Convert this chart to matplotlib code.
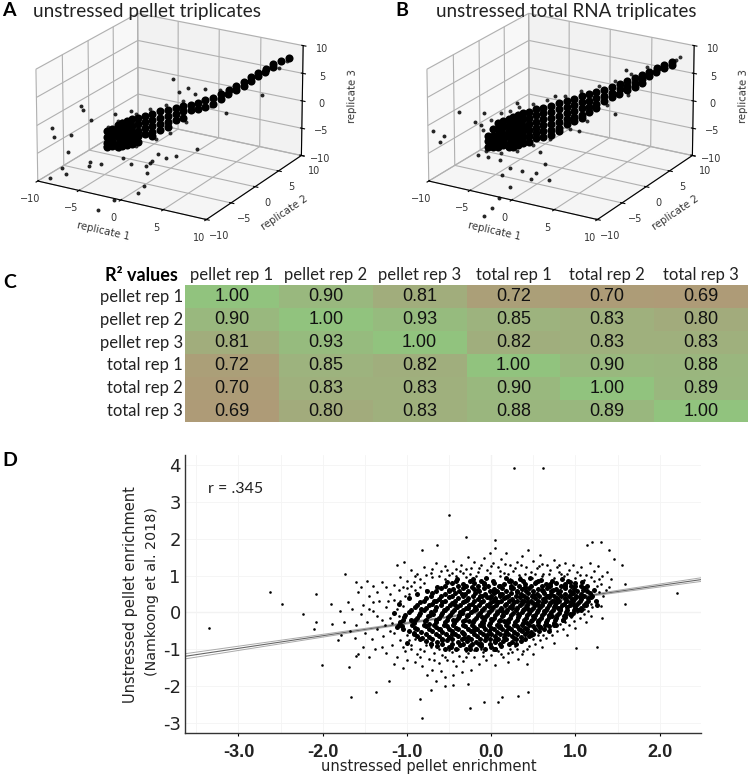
import matplotlib
matplotlib.use('Agg')
import matplotlib.pyplot as plt
from matplotlib.colors import LinearSegmentedColormap
import numpy as np

W, H = 750, 776

# Panel A: replicate 1/2 share a position value, replicate 3
a_out_t = [-8.9, -8.75, -6.7, -6.6, -6.0, -7.45, -7.75, -9.1, -7.9, -8.15, -6.1, -6.15, -5.25, -4.2, -3.0,
           .15, .6, 1.3, 1.8, 2.6, 6.9, 4.2, 2.0, .4, -.4, -1.0, -1.4, -1.6, -1.9, -1.8, -2.05, -2.5, -3.0, -3.65, -4.35, -5.55]
a_out_z = [-.7, -2.4, 2.8, 2.05, .1, -2.3, -5.3, -9.6, -9.3, -8.1, -7.5, -8.2, -8.1, .8, 1.0,
           6.1, 3.7, 4.25, 3.0, 3.8, 1.7, -1.0, -7.0, -7.9, -8.1, -7.2, -8.4, -8.7, -9.2, -10.5, -12.8, -14.0, -8.6, -7.3, -14.8, -16.4]
a_core_t = [-4.8, -4.8, -4.8, -4.8, -4.4, -4.4, -4.4, -4.4, -4, -4, -4, -4, -4, -3.65, -3.65, -3.65, -3.65, -3.65,
            -3.3, -3.3, -3.3, -3.3, -3.3, -2.9, -2.9, -2.9, -2.9, -2.9, -2.5, -2.5, -2.5, -2.5, -2.5, -1.95, -1.95, -1.95, -1.95,
            -1.4, -1.4, -1.4, -1.4, -1.4, -.8, -.8, -.8, -.8, -.2, -.2, -.2, -.2, .35, .35, .35, .9, .9, .9, 1.5, 1.5,
            2.05, 2.05, 2.6, 2.6, 3.2, 3.2, 3.8, 3.8, 4.35, 4.35, 4.9, 4.9, 5.5, 5.5, 6.05, 6.05, 6.6, 6.6, 7.15, 7.15, 7.75, 7.75, 8.3, 8.9]
a_core_z = [-2.2, -3.3, -4.3, -5, -1.8, -2.9, -4, -4.9, -1.3, -2.4, -3.5, -4.6, -5.3, -1, -2.1, -3.2, -4.3, -5.2,
            -.7, -1.8, -2.9, -4, -5, -.5, -1.7, -2.8, -3.8, -4.9, -.4, -1.5, -2.6, -3.6, -4.7, -.1, -1.2, -2.3, -3.3,
            .2, -.9, -2, -3.1, -3.8, .5, -.7, -1.8, -2.9, .6, -.5, -1.6, -2.5, .8, -.3, -1.4, 1, .1, -1, 1.2, .2,
            1.4, .3, 1.7, .6, 2, 1, 2.6, 1.7, 3.2, 2.4, 3.8, 3, 4.4, 3.7, 5.1, 4.5, 5.8, 5.2, 6.4, 5.9, 7.1, 6.6, 7.5, 8]
a_edge_t = [-4.7, -4, -3.65, -2.65, -1.6, -.4, .9, 2.4, 3.7, 4.9, 6.1, -4.95, -3.9, -2.65, -1.15, -.1, 1.15, 3, 5.85, 8.15, 8.75]
a_edge_z = [-1.5, -.6, -.65, .4, 1, 1.5, 1.9, 1.8, 3.4, 2.9, 5.3, -4.9, -5.7, -5.4, -4.5, -3.5, -1.8, .7, 4.5, 6.3, 7.45]

# Panel B
b_out_t = [-9.65, -8.8, -9.1, -7.7, -5.85, -6.5, -6.1, -3.35, -5.25, -.5, 4.85, 4, 1.3, -6.3, -5.55, -4.7,
           -3.9, -3, -4.55, -2.35, -2, -1.3, -1, -3.9, -4.8, -5.3, -5.9, -1.65]
b_out_z = [-1.1, -2.2, -3.2, 1.9, 1.3, -.2, -.8, 2.6, -1.9, 3.2, 6.7, -1.1, -3.6, -6.2, -6.6, -7.5,
           -9.1, -9.9, -10.2, -11.5, -10.5, -9, -11.9, -12.6, -14.4, -16, -17.4, -6.7]
b_core_t = [-5.55, -5.55, -5.55, -5.15, -5.15, -5.15, -5.15, -4.8, -4.8, -4.8, -4.8, -4.8, -4.4, -4.4, -4.4, -4.4, -4.4,
            -4, -4, -4, -4, -4, -4, -3.65, -3.65, -3.65, -3.65, -3.65, -3.65, -3.3, -3.3, -3.3, -3.3, -3.3, -3.3,
            -2.9, -2.9, -2.9, -2.9, -2.9, -2.9, -2.5, -2.5, -2.5, -2.5, -2.5, -2.5, -1.95, -1.95, -1.95, -1.95, -1.95, -1.95,
            -1.4, -1.4, -1.4, -1.4, -1.4, -1.4, -.8, -.8, -.8, -.8, -.8, -.8, -.2, -.2, -.2, -.2, -.2, -.2,
            .35, .35, .35, .35, .35, .9, .9, .9, .9, .9, 1.5, 1.5, 1.5, 1.5, 1.5, 2.05, 2.05, 2.05, 2.05, 2.6, 2.6, 2.6, 2.6,
            3.2, 3.2, 3.2, 3.8, 3.8, 3.8, 4.35, 4.35, 4.35, 4.9, 4.9, 4.9, 5.5, 5.5, 5.5, 6.05, 6.05, 6.05, 6.6, 6.6, 7.15, 7.15, 7.75, 7.75, 8.3, 8.3]
b_core_z = [-2.8, -3.8, -4.9, -1.8, -2.9, -3.9, -5, -.8, -1.8, -2.9, -4, -5, -.5, -1.6, -2.7, -3.8, -4.8,
            -.2, -1.3, -2.4, -3.5, -4.6, -5.3, .1, -1, -2.1, -3.2, -4.3, -5.3, .3, -.7, -1.8, -2.9, -4, -5,
            .6, -.5, -1.6, -2.6, -3.7, -4.8, .8, -.3, -1.4, -2.5, -3.6, -4.7, 1.1, 0, -1.1, -2.2, -3.2, -4.1,
            1.3, .3, -.8, -1.9, -3, -4, 1.5, .4, -.7, -1.8, -2.9, -3.7, 1.8, .7, -.4, -1.5, -2.6, -3.2,
            2.1, 1, 0, -1.1, -2.1, 2.4, 1.3, .2, -.9, -1.7, 2.7, 1.6, .5, -.6, -1.2, 2.9, 1.8, .7, -.3, 3.2, 2.2, 1.1, .3,
            3.5, 2.4, 1.4, 3.9, 2.8, 2, 4.3, 3.4, 2.5, 4.7, 3.8, 3.1, 5.1, 4.2, 3.5, 5.5, 4.8, 4.1, 6, 5.2, 6.5, 5.8, 7, 6.4, 7.4, 6.8]
b_edge_t = [-5.9, -5.3, -4.6, -3.9, -3.2, -2.2, -1.1, .2, 1.4, 2.8, 4, 5.2, 6.4, -5.7, -4.6, -3.4, -2.2, -.9, .6, 1.9, 3.4, 5, 8.6, 8.9]
b_edge_z = [-1.7, -.1, 1, 1.3, 1.8, 2.1, 2.6, 3.1, 3.6, 4.3, 4.9, 5.9, 6.9, -5.5, -6.2, -6.1, -5.3, -4.4, -3, -1.8, .7, 2.2, 7.7, 8.2]

tick_vals = [-10, -5, 0, 5, 10]

# Panel C
row_names = ['pellet rep 1', 'pellet rep 2', 'pellet rep 3', 'total rep 1', 'total rep 2', 'total rep 3']
r2_values = [[1.00, 0.90, 0.81, 0.72, 0.70, 0.69],
             [0.90, 1.00, 0.93, 0.85, 0.83, 0.80],
             [0.81, 0.93, 1.00, 0.82, 0.83, 0.83],
             [0.72, 0.85, 0.82, 1.00, 0.90, 0.88],
             [0.70, 0.83, 0.83, 0.90, 1.00, 0.89],
             [0.69, 0.80, 0.83, 0.88, 0.89, 1.00]]

# Panel D: dense rows of the cloud (y value, x values along the row)
d_row_y = [.85, .72, .58, .45, .32, .19, .06, -.07, -.2, -.33, -.46, -.59, -.72, -.85, -.98]
d_row_x = [[-.42, -.25, -.12, .02, .21, .38, .55, .72, .91],
           [-.55, -.4, -.3, -.16, -.04, .09, .24, .33, .47, .6, .7, .83, .95, 1.06],
           [-.66, -.5, -.38, -.27, -.14, -.02, .07, .18, .3, .41, .5, .62, .71, .82, .93, 1.02, 1.14],
           [-.72, -.6, -.46, -.34, -.22, -.11, 0, .1, .2, .29, .39, .48, .57, .66, .74, .83, .92, 1.01, 1.1, 1.2],
           [-.8, -.66, -.55, -.43, -.31, -.2, -.1, .02, .12, .21, .3, .39, .47, .56, .64, .72, .8, .89, .97, 1.05, 1.15, 1.24],
           [-.88, -.74, -.6, -.49, -.37, -.26, -.15, -.05, .06, .16, .25, .34, .43, .52, .6, .68, .76, .84, .93, 1.01, 1.1],
           [-.95, -.8, -.67, -.55, -.44, -.33, -.21, -.11, 0, .1, .19, .29, .38, .47, .56, .65, .73, .82, .9, .98, 1.06],
           [-1.02, -.86, -.73, -.6, -.49, -.38, -.27, -.16, -.05, .05, .14, .24, .33, .42, .52, .6, .69, .78, .87, .95],
           [-1.05, -.9, -.77, -.65, -.53, -.42, -.31, -.2, -.09, .01, .11, .2, .3, .39, .48, .57, .66, .76, .85],
           [-1.1, -.94, -.8, -.68, -.56, -.45, -.34, -.23, -.13, -.03, .07, .17, .27, .36, .45, .55, .64, .74],
           [-1.05, -.88, -.74, -.62, -.5, -.39, -.28, -.17, -.07, .03, .13, .23, .33, .43, .52, .63],
           [-.92, -.78, -.66, -.54, -.43, -.32, -.21, -.1, 0, .1, .2, .3, .4, .5],
           [-.84, -.7, -.58, -.46, -.35, -.24, -.13, -.02, .08, .18, .29, .4],
           [-.72, -.58, -.46, -.34, -.23, -.12, -.01, .1, .21],
           [-.55, -.42, -.3, -.18, -.07, .05]]
# more of the dense cloud, between those rows
d_mid = [(-.47, .79), (-.33, .77), (-.2, .8), (-.09, .76), (.03, .81), (.15, .77), (.28, .8), (.4, .76), (.52, .81), (.65, .78), (.77, .8), (.88, .76), (1.0, .8),
         (-.6, .66), (-.45, .63), (-.33, .67), (-.21, .64), (-.09, .66), (.03, .63), (.13, .67), (.24, .65), (.36, .63), (.45, .66), (.56, .64), (.66, .67), (.77, .63), (.88, .66), (.98, .64), (1.1, .66),
         (-.7, .53), (-.55, .5), (-.43, .54), (-.31, .51), (-.19, .53), (-.07, .5), (.03, .54), (.13, .51), (.24, .53), (.35, .5), (.44, .54), (.54, .51), (.63, .53), (.71, .5), (.79, .54), (.88, .51), (.97, .53), (1.06, .5), (1.17, .53),
         (-.77, .4), (-.62, .37), (-.5, .41), (-.39, .38), (-.27, .4), (-.16, .37), (-.05, .41), (.05, .38), (.15, .4), (.25, .37), (.34, .41), (.43, .38), (.52, .4), (.61, .37), (.69, .41), (.78, .38), (.87, .4), (.96, .37), (1.05, .41), (1.15, .38),
         (-.84, .27), (-.7, .24), (-.58, .28), (-.46, .25), (-.34, .27), (-.23, .24), (-.12, .28), (-.01, .25), (.08, .27), (.18, .24), (.27, .28), (.36, .25), (.44, .27), (.53, .24), (.62, .28), (.7, .25), (.78, .27), (.86, .24), (.95, .28), (1.03, .25), (1.13, .26),
         (-.9, .14), (-.77, .11), (-.65, .15), (-.53, .12), (-.41, .14), (-.3, .11), (-.19, .15), (-.08, .12), (.02, .14), (.12, .11), (.22, .15), (.31, .12), (.41, .14), (.49, .11), (.58, .15), (.66, .12), (.74, .14), (.82, .11), (.9, .15), (.99, .12), (1.07, .13),
         (-.98, .01), (-.84, -.02), (-.71, .02), (-.58, -.01), (-.47, .01), (-.35, -.02), (-.24, .02), (-.13, -.01), (-.03, .01), (.07, -.02), (.17, .02), (.26, -.01), (.36, .01), (.45, -.02), (.54, .02), (.63, -.01), (.71, .01), (.8, -.02), (.89, .02), (.97, -.01),
         (-1.04, -.12), (-.88, -.15), (-.75, -.11), (-.62, -.14), (-.51, -.12), (-.4, -.15), (-.29, -.11), (-.18, -.14), (-.07, -.12), (.03, -.15), (.13, -.11), (.22, -.14), (.32, -.12), (.41, -.15), (.5, -.11), (.59, -.14), (.68, -.12), (.77, -.15), (.86, -.11),
         (-1.08, -.25), (-.92, -.28), (-.79, -.24), (-.66, -.27), (-.55, -.25), (-.44, -.28), (-.33, -.24), (-.22, -.27), (-.11, -.25), (-.01, -.28), (.09, -.24), (.19, -.27), (.28, -.25), (.38, -.28), (.47, -.24), (.56, -.27), (.65, -.25), (.75, -.28),
         (-1.06, -.38), (-.91, -.41), (-.77, -.37), (-.65, -.4), (-.53, -.38), (-.42, -.41), (-.31, -.37), (-.2, -.4), (-.1, -.38), (0, -.41), (.1, -.37), (.2, -.4), (.3, -.38), (.4, -.41), (.49, -.37), (.58, -.4), (.68, -.38),
         (-.98, -.51), (-.83, -.54), (-.7, -.5), (-.58, -.53), (-.46, -.51), (-.35, -.54), (-.24, -.5), (-.13, -.53), (-.03, -.51), (.07, -.54), (.17, -.5), (.27, -.53), (.37, -.51), (.47, -.54), (.57, -.51),
         (-.88, -.64), (-.74, -.67), (-.62, -.63), (-.5, -.66), (-.39, -.64), (-.28, -.67), (-.17, -.63), (-.06, -.66), (.05, -.64), (.15, -.67), (.25, -.63), (.35, -.66), (.45, -.64),
         (-.78, -.77), (-.64, -.8), (-.52, -.76), (-.4, -.79), (-.29, -.77), (-.18, -.8), (-.07, -.76), (.04, -.79), (.14, -.77), (.25, -.8), (.35, -.77),
         (-.64, -.9), (-.5, -.93), (-.37, -.89), (-.25, -.92), (-.12, -.9), (0, -.93), (.12, -.9)]
d_fill = [(-.95, -.2), (-.83, .1), (-.74, -.32), (-.68, .3), (-.61, -.45), (-.56, .06), (-.5, .62), (-.47, -.58), (-.43, .2), (-.38, -.1), (-.35, .5), (-.32, -.7),
          (-.29, .33), (-.26, -.22), (-.23, .7), (-.2, -.48), (-.18, .1), (-.15, -.85), (-.13, .44), (-.1, -.3), (-.08, .8), (-.05, -.6), (-.03, .17), (0, -.18),
          (.02, .58), (.04, -.75), (.06, .3), (.09, -.4), (.11, .72), (.13, .04), (.16, -.58), (.18, .42), (.2, -.25), (.23, .86), (.25, .12), (.27, -.7), (.3, .55),
          (.32, -.05), (.35, -.48), (.37, .32), (.4, .7), (.42, -.28), (.44, .1), (.47, -.6), (.49, .48), (.51, -.15), (.53, .82), (.56, .2), (.58, -.4), (.6, .6),
          (.63, .03), (.65, -.3), (.67, .44), (.7, .78), (.72, -.1), (.75, .3), (.77, -.35), (.8, .55), (.82, .1), (.85, -.2), (.87, .72), (.9, .3), (.93, -.05),
          (.95, .5), (.98, .2), (1.0, .72), (1.03, .06), (1.06, .36), (1.09, .6), (1.12, .2), (1.18, .42), (1.22, .62), (1.25, .2),
          (-1.15, -.02), (-1.12, -.4), (-1.1, .22), (-1.0, -.82), (-.98, .38), (-.92, -.55), (-.88, .5), (-.82, -.7), (-.76, .58), (-.72, -.85), (-.69, -.05),
          (-.64, .7), (-.58, -.75), (-.52, .82), (-.48, -.95), (-.45, -.2), (-.41, .9), (-.37, .02), (-.33, -.55), (-.27, .12), (-.25, -.98), (-.22, .9), (-.16, .62),
          (-.11, -.12), (-.06, .94), (-.01, .4), (.05, -.98), (.07, .02), (.1, .5), (.15, -.22), (.17, .93), (.21, -.42), (.26, .66), (.29, -.85), (.34, .9), (.39, .1),
          (.43, -.52), (.46, .94), (.5, .26), (.55, -.22), (.59, .88), (.64, .38), (.68, -.5), (.73, .62), (.79, .12), (.84, .9), (.88, -.12), (.94, .82), (1.0, .4),
          (1.08, .82), (1.14, .72)]
# single dots around the cloud
d_points = [(-3.35, -.41), (-2.63, .56), (-2.48, .24), (-2.23, -.03), (-2.08, .51), (-1.9, .24), (-1.73, 1.03), (-2.08, -.27),
            (-2.1, -.46), (-1.89, -.32), (-2.01, -1.43), (-1.66, -2.3), (-1.37, -2.16), (-1.21, -1.86), (-1.69, -1.49), (-1.61, -1.19),
            (-1.12, 1.3), (.27, 3.92), (.62, 3.92), (-.5, 2.65), (-.3, 2.05), (.05, 1.97), (-.82, 1.7), (-.64, 1.84), (-1.04, 1.38),
            (2.2, .54), (1.55, 1.3), (1.59, .76), (1.59, .24), (1.46, 1.46), (1.4, 1.7), (1.3, 1.92), (1.2, 1.9), (1.14, 1.84),
            (1.25, -.95), (1.01, -.97), (1.32, -.16), (-.85, -2.35), (-.82, -2.87), (-.25, -2.6), (-.08, -2.43), (.08, -2.42),
            (.13, -2.3), (.32, -2.28), (.44, -2.16), (-.72, -2.11), (-.55, -2.0), (-.45, -1.98), (-.27, -1.95),
            (-.95, 1.15), (-.88, 1.05), (-.8, 1.22), (-.72, 1.08), (-.66, 1.33), (-.6, 1.12), (-.55, 1.25), (-.5, 1.02), (-.45, 1.4),
            (-.42, 1.18), (-.36, 1.3), (-.33, 1.06), (-.28, 1.5), (-.24, 1.2), (-.2, 1.36), (-.16, 1.1), (-.12, 1.28), (-.08, 1.48),
            (-.05, 1.16), (-.02, 1.62), (.02, 1.34), (.05, 1.75), (.08, 1.22), (.12, 1.44), (.15, 1.08), (.18, 1.6), (.22, 1.28),
            (.26, 1.12), (.3, 1.38), (.33, 1.02), (.37, 1.52), (.41, 1.24), (.44, 1.7), (.47, 1.1), (.5, 1.4), (.54, 1.2), (.58, 1.55),
            (.62, 1.05), (.66, 1.3), (.7, 1.14), (.74, 1.42), (.78, 1.22), (.83, 1.05), (.87, 1.35), (.92, 1.16), (.97, 1.28),
            (1.02, 1.1), (1.07, 1.22), (1.12, 1.02), (1.17, 1.35), (1.22, 1.12), (1.27, 1.25), (1.32, .98), (1.37, 1.1), (1.42, .9),
            (-.85, .9), (-.7, .95), (-.55, .92), (-.42, .98), (-.3, .96), (-.18, 1.0), (-.05, .94), (.1, .98), (.22, .92), (.34, .97),
            (.48, .94), (.6, .98), (.74, .93), (.86, .98), (1.0, .93), (1.1, .88), (1.22, .84), (1.3, .76), (1.36, .62), (1.4, .7),
            (1.28, .55), (1.33, .45), (1.25, .72), (1.15, .05), (1.2, .15), (1.1, -.05), (1.05, -.15), (.98, -.22), (1.12, -.25),
            (.92, -.35), (.85, -.45), (.78, -.5), (.9, -.6), (.72, -.62), (.65, -.7), (.58, -.75), (.74, -.82), (.52, -.85), (.45, -.9),
            (.6, -.95), (1.0, -.42), (1.18, -.1), (-.95, -1.0), (-.88, -1.12), (-.8, -1.05), (-.74, -1.25), (-.68, -1.1), (-.62, -1.38),
            (-.58, -1.15), (-.52, -1.28), (-.47, -1.08), (-.42, -1.45), (-.38, -1.18), (-.33, -1.32), (-.28, -1.1), (-.24, -1.55),
            (-.2, -1.22), (-.15, -1.4), (-.1, -1.08), (-.06, -1.28), (0, -1.15), (.04, -1.42), (.08, -1.05), (.14, -1.2), (.2, -1.35),
            (.25, -1.08), (.32, -1.25), (.38, -1.05), (.42, -1.4), (.5, -1.12), (.22, -1.0), (-.7, -1.55), (-.6, -1.6), (-.82, -1.45),
            (-.9, -1.35), (-1.0, -1.28), (-.55, -1.75), (-.45, -1.7), (-.35, -1.62), (-.76, -1.7), (-.65, -1.85),
            (-1.12, .1), (-1.18, -.3), (-1.15, .35), (-1.2, -.5), (-1.25, .15), (-1.28, -.65), (-1.3, -.2), (-1.33, .3), (-1.36, -.45),
            (-1.4, .05), (-1.42, -.72), (-1.45, .45), (-1.48, -.25), (-1.5, -.55), (-1.52, .2), (-1.55, -.05), (-1.58, .55), (-1.6, -.35),
            (-1.62, -.7), (-1.65, .1), (-1.68, -.5), (-1.7, .28), (-1.75, -.25), (-1.78, -.6), (-1.8, .05), (-1.82, -.75),
            (-1.1, .6), (-1.15, .75), (-1.2, .5), (-1.25, .68), (-1.3, .82), (-1.35, .55), (-1.4, .72), (-1.48, .85), (-1.55, .7),
            (-1.6, .82), (-1.3, -.95), (-1.25, -1.1), (-1.18, -.88), (-1.12, -1.2), (-1.08, -.75), (-1.38, -1.0), (-1.45, -1.2),
            (-1.52, -.95), (-1.58, -1.12), (-1.15, -1.4), (-1.05, -1.5), (-1.02, -1.05), (-1.05, -.95), (-1.02, .45), (-1.05, .7),
            (-1.0, .85), (-1.08, .95),
            (-.9, .98), (-.78, 1.02), (-.62, .98), (-.47, 1.07), (-.37, 1.12), (-.25, 1.04), (-.14, 1.2), (-.01, 1.06), (.1, 1.12), (.2, 1.03),
            (.28, 1.2), (.4, 1.05), (.52, 1.03), (.57, 1.25), (.68, 1.04), (.8, 1.1), (.9, 1.04), (1.05, 1.02), (1.18, .95), (1.28, .92),
            (-.3, 1.18), (0, 1.25), (.16, 1.32), (.35, 1.28), (.6, 1.32), (.8, 1.3), (-.52, 1.15), (-.7, 1.18),
            (-1.0, .65), (-.98, .5), (-.95, .72), (-.92, .82), (-.9, .6), (-.85, .7), (-.8, .8), (-.78, .62), (-1.08, .3), (-1.05, .18),
            (-1.1, -.1), (-1.15, -.55), (-1.2, -.15), (-1.22, .3), (-1.26, -.35), (-1.35, -.1), (-1.4, .28), (-1.45, .1),
            (-1.0, -.6), (-.98, -.75), (-.95, -.88), (-.9, -.72), (-.85, -.98), (-.78, -.88), (-.72, -.95), (-.62, -1.0), (-.5, -1.03),
            (-.4, -1.0), (-.3, -1.05), (-.2, -1.03), (-.12, -1.0), (.02, -1.03), (.12, -1.12), (.2, -1.1), (.3, -1.0), (.42, -.98), (.36, -1.12),
            (.28, -.92), (.5, -.72), (.55, -.62), (.62, -.6), (.7, -.45), (.82, -.32), (.88, -.25), (.95, -.12), (1.02, 0), (1.1, .1), (1.18, .22),
            (1.26, .3), (1.3, .18), (-.55, -1.2), (-.3, -1.2), (-.1, -1.18), (-.68, -1.3), (-.45, -1.32), (-.85, -1.2)]
# fitted line and its confidence lines
reg_x = [-3.635, -1.32, 0, 1.2, 2.49]
reg_y = [-1.19, -.4, .05, .47, .89]
reg_hi = [-1.12, -.375, .07, .495, .94]
reg_lo = [-1.26, -.425, .03, .445, .84]


def px_axes(fig, left, top, right, bottom, **kw):
    # axes placed by pixel position in the target picture
    return fig.add_axes([left / W, 1 - bottom / H, (right - left) / W, (bottom - top) / H], **kw)


def px_text(fig, x, y, s, **kw):
    kw.setdefault('va', 'center')
    return fig.text(x / W, 1 - y / H, s, **kw)


def panel_3d(fig, rect, out_t, out_z, core_t, core_z, edge_t, edge_z):
    ax = px_axes(fig, *rect, projection='3d')
    ax.patch.set_alpha(0)
    ax.view_init(elev=21, azim=-59.5)
    ax.set_proj_type('persp', focal_length=2)
    ax.set_box_aspect((4, 4, 2.45), zoom=1.0)
    ax.scatter(core_t, core_t, core_z, s=34, c='black', depthshade=False, linewidths=0)
    ax.scatter(edge_t, edge_t, edge_z, s=8, c='black', alpha=.8, depthshade=False, linewidths=0)
    ax.scatter(out_t, out_t, out_z, s=8, c='black', alpha=.85, depthshade=False, linewidths=0)
    ax.set_xlim(-10, 10)
    ax.set_ylim(-10, 10)
    ax.set_zlim(-10, 10)
    ax.set_xticks(tick_vals)
    ax.set_yticks(tick_vals)
    ax.set_zticks(tick_vals)
    ax.tick_params(labelsize=7, labelcolor='#333333', pad=0)
    ax.set_xlabel('replicate 1', fontsize=7.3, color='#333333', labelpad=-2)
    ax.set_ylabel('replicate 2', fontsize=7.3, color='#333333', labelpad=-2)
    ax.set_zlabel('replicate 3', fontsize=7.3, color='#333333', labelpad=0)
    return ax


def main():
    fig = plt.figure(figsize=(W / 100, H / 100), dpi=100)

    panel_3d(fig, (-8, -28, 342, 262), a_out_t, a_out_z, a_core_t, a_core_z, a_edge_t, a_edge_z)
    panel_3d(fig, (383, -28, 733, 262), b_out_t, b_out_z, b_core_t, b_core_z, b_edge_t, b_edge_z)

    px_text(fig, 2, 11, 'A', fontsize=14, fontweight='bold', family='Lato')
    px_text(fig, 33, 11, 'unstressed pellet triplicates', fontsize=13.7, family='Lato', color='#222222')
    px_text(fig, 395, 11, 'B', fontsize=14, fontweight='bold', family='Lato')
    px_text(fig, 436, 11, 'unstressed total RNA triplicates', fontsize=13.5, family='Lato', color='#222222')

    # Panel C
    ax_c = px_axes(fig, 185, 285.5, 748, 422.5)
    cmap = LinearSegmentedColormap.from_list('r2', ['#AE9B77', '#9DB27E', '#91C37E'])
    ax_c.pcolormesh(np.array(r2_values), cmap=cmap, vmin=.69, vmax=1.0)
    ax_c.set_ylim(6, 0)
    ax_c.axis('off')
    for i, row in enumerate(r2_values):
        for j, v in enumerate(row):
            ax_c.text(j + .5, i + .5, f'{v:.2f}', ha='center', va='center', fontsize=13,
                      family='Liberation Sans', color='#111111')
        px_text(fig, 183, 297 + i * 22.8, row_names[i], ha='right', fontsize=12, family='Lato', color='#222222')
        px_text(fig, 232 + i * 93.8, 275, row_names[i], ha='center', fontsize=12, family='Lato', color='#222222')
    px_text(fig, 178, 275, 'R² values', ha='right', fontsize=13, fontweight='bold', family='Lato')
    px_text(fig, 3, 282, 'C', fontsize=14, fontweight='bold', family='Lato')

    # Panel D
    ax_d = px_axes(fig, 185, 455, 701, 733)
    ax_d.plot(reg_x, reg_hi, color='#aaaaaa', lw=.7, zorder=1)
    ax_d.plot(reg_x, reg_lo, color='#aaaaaa', lw=.7, zorder=1)
    ax_d.plot(reg_x, reg_y, color='#666666', lw=.8, zorder=1)
    core_x = [x for row in d_row_x for x in row]
    core_y = [y for y, row in zip(d_row_y, d_row_x) for x in row]
    ax_d.scatter(core_x, core_y, s=13, c='black', linewidths=0, zorder=2)
    ax_d.scatter([p[0] for p in d_mid], [p[1] for p in d_mid], s=13, c='black', linewidths=0, zorder=2)
    ax_d.scatter([p[0] for p in d_fill], [p[1] for p in d_fill], s=13, c='black', linewidths=0, zorder=2)
    ax_d.scatter([p[0] for p in d_points], [p[1] for p in d_points], s=3.5, c='black', linewidths=0, zorder=2)
    ax_d.set_xlim(-3.635, 2.49)
    ax_d.set_ylim(-3.27, 4.27)
    ax_d.set_xticks([-3, -2, -1, 0, 1, 2])
    ax_d.set_xticklabels(['-3.0', '-2.0', '-1.0', '0.0', '1.0', '2.0'], fontsize=13, fontweight='bold',
                         family='Liberation Sans', color='#222222')
    ax_d.set_xticks([-3.5, -2.5, -1.5, -.5, .5, 1.5], minor=True)
    ax_d.set_yticks([-3, -2, -1, 0, 1, 2, 3, 4])
    ax_d.set_yticklabels(['-3', '-2', '-1', '0', '1', '2', '3', '4'], fontsize=13, color='#222222')
    ax_d.tick_params(axis='x', which='major', length=2, pad=6)
    ax_d.tick_params(axis='x', which='minor', length=0)
    ax_d.tick_params(axis='y', length=0, pad=3)
    ax_d.grid(True, which='both', color='#f4f4f4', lw=.6)
    ax_d.set_axisbelow(True)
    ax_d.axhline(0, color='#ebebeb', lw=.9, zorder=0)
    ax_d.axvline(0, color='#ebebeb', lw=.9, zorder=0)
    for side in ['top', 'right']:
        ax_d.spines[side].set_visible(False)
    for side in ['left', 'bottom']:
        ax_d.spines[side].set_color('#333333')
        ax_d.spines[side].set_linewidth(1)
    ax_d.text(-3.36, 3.35, 'r = .345', fontsize=11.5, family='Lato', va='center', color='#222222')
    px_text(fig, 429, 767, 'unstressed pellet enrichment', ha='center', fontsize=10.5, color='#222222')
    px_text(fig, 131, 595, 'Unstressed pellet enrichment', ha='center', rotation=90, fontsize=10.5, color='#222222')
    px_text(fig, 152, 592, '(Namkoong et al. 2018)', ha='center', rotation=90, fontsize=10.3, color='#222222')
    px_text(fig, 2, 461, 'D', fontsize=14, fontweight='bold', family='Lato')

    fig.savefig('out.png', dpi=100)


if __name__ == "__main__":
    main()
